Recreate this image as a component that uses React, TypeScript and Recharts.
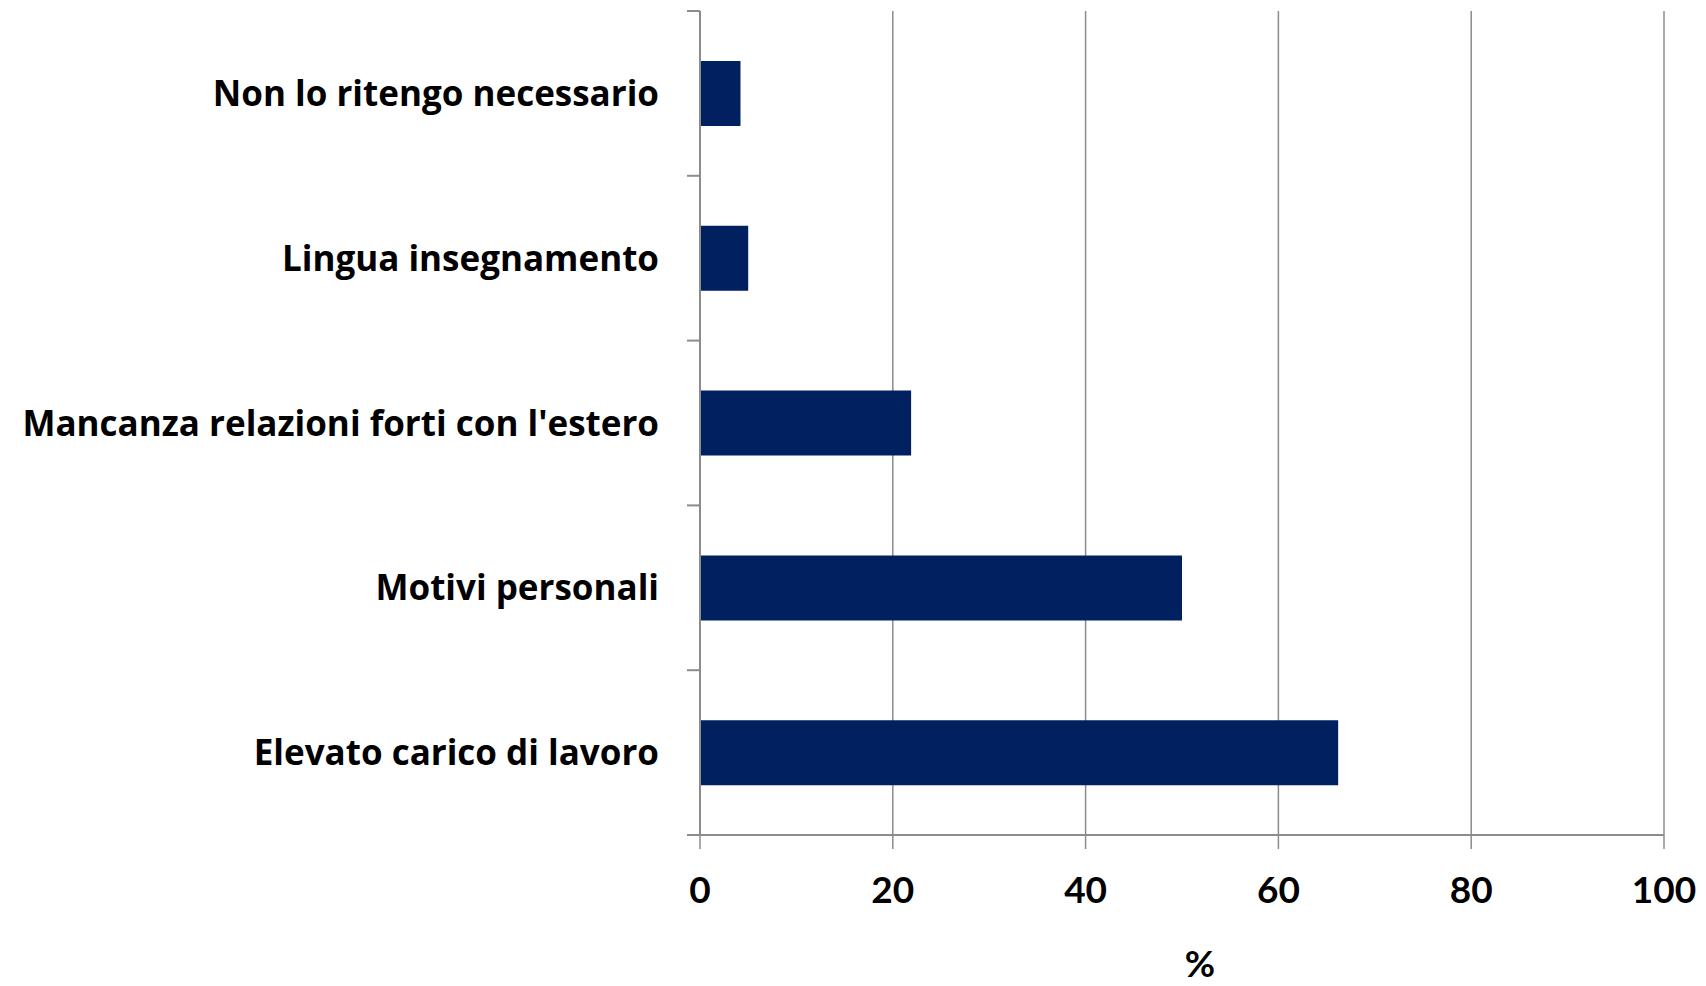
import React from 'react';
import { BarChart, Bar, XAxis, YAxis, CartesianGrid } from 'recharts';

const categories = [
    'Non lo ritengo necessario',
    'Lingua insegnamento',
    "Mancanza relazioni forti con l'estero",
    'Motivi personali',
    'Elevato carico di lavoro',
];
const percentages = [4.2, 5.0, 21.9, 50.0, 66.2];
const xTicks = [0, 20, 40, 60, 80, 100];

const data = categories.map((name, i) => ({ name, value: percentages[i] }));

const AXIS_GRAY = '#8c8c8c';
const TICK_LEN = 13;

// Excel style: label at band centre, small tick marks at band boundaries
const CategoryTick = (props: any) => {
    const { x, y, payload, index, visibleTicksCount } = props;
    const half = payload.offset || 0;
    const axisX = x + 41;
    return (
        <g>
            <line x1={axisX - TICK_LEN} x2={axisX} y1={y - half} y2={y - half} stroke={AXIS_GRAY} strokeWidth={2} />
            {index === visibleTicksCount - 1 && (
                <line x1={axisX - TICK_LEN} x2={axisX} y1={y + half} y2={y + half} stroke={AXIS_GRAY} strokeWidth={2} />
            )}
            <text
                x={x}
                y={y}
                dy="0.36em"
                textAnchor="end"
                fill="#000"
                fontSize={35}
                fontWeight={700}
                fontFamily="'Open Sans', sans-serif"
            >
                {payload.value}
            </text>
        </g>
    );
};

const App: React.FC = () => {
    return (
        <div style={{ position: 'absolute', left: 0, top: 0, fontFamily: 'Lato, sans-serif', background: '#fff' }}>
            <BarChart
                width={1706}
                height={986}
                data={data}
                layout="vertical"
                margin={{ top: 11, right: 42, left: 0, bottom: 0 }}
            >
                <CartesianGrid horizontal={false} stroke={AXIS_GRAY} strokeWidth={1.5} />
                <XAxis
                    type="number"
                    domain={[0, 100]}
                    ticks={xTicks}
                    height={151}
                    axisLine={{ stroke: AXIS_GRAY, strokeWidth: 2 }}
                    tickLine={{ stroke: AXIS_GRAY, strokeWidth: 1.5 }}
                    tickSize={14}
                    tickMargin={28}
                    tick={{ fill: '#000', fontSize: 37, fontWeight: 700 }}
                    label={{ value: '%', position: 'insideBottom', offset: 9, dx: 18, fill: '#000', fontSize: 37, fontWeight: 700 }}
                />
                <YAxis
                    type="category"
                    dataKey="name"
                    width={700}
                    axisLine={{ stroke: AXIS_GRAY, strokeWidth: 2 }}
                    tickLine={false}
                    tickSize={0}
                    tickMargin={41}
                    tick={<CategoryTick />}
                />
                <Bar dataKey="value" fill="#002060" barSize={65} isAnimationActive={false} />
            </BarChart>
        </div>
    );
};

export default App;
